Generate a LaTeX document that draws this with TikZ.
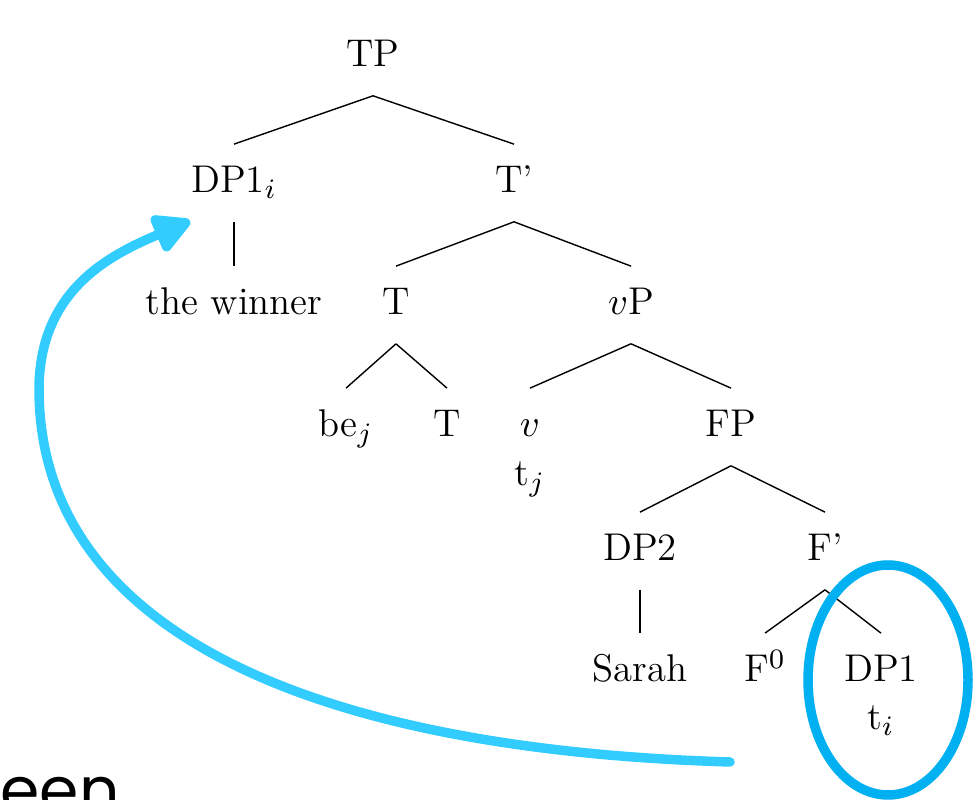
\documentclass[tikz,border=0pt]{standalone}
\usepackage{fontspec}
\newfontfamily\notefont{Poppins}
\usetikzlibrary{arrows.meta}
\definecolor{arrowblue}{RGB}{51,204,255}
\definecolor{ringblue}{RGB}{0,176,240}

\begin{document}
\begin{tikzpicture}[
  cat/.style={anchor=base, inner sep=0pt, text height=13.7pt, text depth=8pt, font=\fontsize{11}{13.2}\selectfont},
  movement/.style={arrowblue, line width=2.7pt, line cap=round, line join=round, -{Triangle[length=12pt, width=12pt, round]}},
  ring/.style={ringblue, line width=2.7pt}
]
  \useasboundingbox (0, 0) rectangle (9.76, 8);

  % tree
  \node[cat] (tp) at (3.73, 7.33) {TP};
  \node[cat] (dpi) at (2.34, 6.07) {DP1$_i$};
  \node[cat] (tbar) at (5.14, 6.07) {T'};
  \node[cat] (winner) at (2.34, 4.85) {the winner};
  \node[cat] (t) at (3.96, 4.85) {T};
  \node[cat] (vp) at (6.31, 4.85) {$v$P};
  \node[cat] (be) at (3.46, 3.63) {be$_j$};
  \node[cat] (tlow) at (4.47, 3.63) {T};
  \node[cat] (v) at (5.30, 3.63) {$v$};
  \node[cat] (tj) at (5.30, 3.14) {t$_j$};
  \node[cat] (fp) at (7.31, 3.63) {FP};
  \node[cat] (dptwo) at (6.40, 2.39) {DP2};
  \node[cat] (fbar) at (8.25, 2.39) {F'};
  \node[cat] (sarah) at (6.40, 1.18) {Sarah};
  \node[cat] (fzero) at (7.65, 1.18) {F$^0$};
  \node[cat] (dpone) at (8.81, 1.18) {DP1};
  \node[cat] (ti) at (8.81, 0.70) {t$_i$};

  \draw (tp.south) -- (dpi.north);
  \draw (tp.south) -- (tbar.north);
  \draw (dpi.south) -- (winner.north);
  \draw (tbar.south) -- (t.north);
  \draw (tbar.south) -- (vp.north);
  \draw (t.south) -- (be.north);
  \draw (t.south) -- (tlow.north);
  \draw (vp.south) -- (v.north);
  \draw (vp.south) -- (fp.north);
  \draw (fp.south) -- (dptwo.north);
  \draw (fp.south) -- (fbar.north);
  \draw (dptwo.south) -- (sarah.north);
  \draw (fbar.south) -- (fzero.north);
  \draw (fbar.south) -- (dpone.north);

  % hand-drawn marks
  \draw[ring] (8.88, 1.20) ellipse (0.80 and 1.15);
  \coordinate (tail) at (7.30, 0.38);
  \coordinate (bend) at (0.39, 4.10);
  \coordinate (head) at (1.90, 5.79);
  \draw[movement] (tail) .. controls (3.30, 0.50) and (0.40, 1.60) .. (bend)
    .. controls (0.39, 5.10) and (1.10, 5.45) .. (head);

  \node[anchor=base west, inner sep=0pt, font=\notefont\fontsize{18}{21}\selectfont] (een) at (0, -0.13) {een};
\end{tikzpicture}
\end{document}
